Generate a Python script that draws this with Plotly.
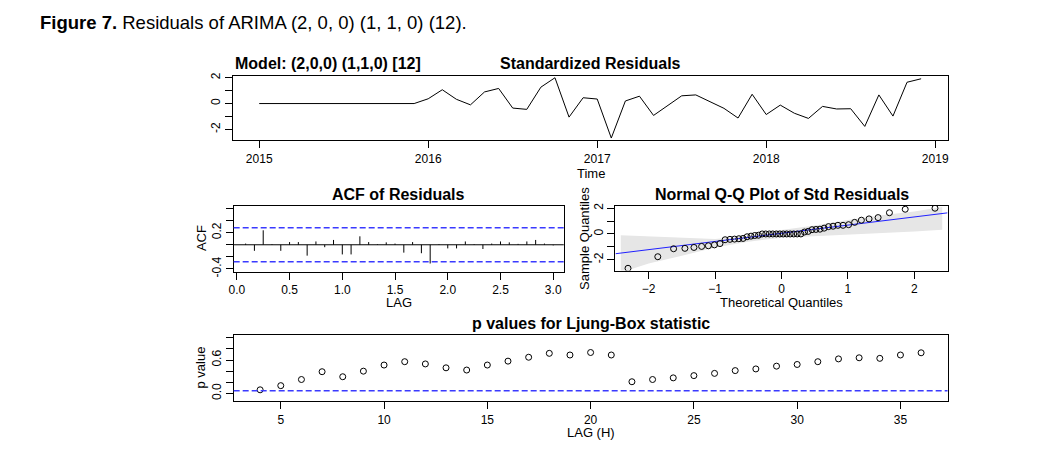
import plotly.graph_objects as go
import numpy as np
from statistics import NormalDist

W, H = 1043, 455

# ---------------- data ----------------
# standardized residuals, monthly 2015-01 .. 2018-12
resid_2015 = [0.0] * 12
resid_2016 = [0.37, 1.07, 0.33, -0.10, 0.90, 1.17, -0.35, -0.45, 1.27, 2.00, -1.05, 0.45]
resid_2017 = [0.35, -2.67, 0.20, 0.57, -0.92, -0.17, 0.60, 0.67, 0.15, -0.37, -1.12, 0.72]
resid_2018 = [-0.85, -0.12, -0.75, -1.15, -0.22, -0.42, -0.40, -1.77, 0.67, -0.97, 1.65, 1.92]
start_year = 2015

# ACF of residuals, lags 1..36 (in years: lag/12)
acf_values = [0.02, -0.10, 0.24, 0.01, -0.10, 0.045, 0.045, -0.18, 0.055, -0.04,
              0.08, -0.16, -0.16, 0.14, 0.045, 0.01, 0.04, 0.02, -0.13, 0.045,
              -0.14, -0.31, 0.01, -0.06, -0.06, 0.055, 0.01, -0.07, 0.02, 0.055,
              0.04, 0.015, 0.055, 0.08, 0.02, -0.01]
acf_bound = 0.283

# Ljung-Box p-values, lags 4..36
lb_lags = list(range(4, 37))
lb_pvalues = [0.065, 0.14, 0.25, 0.39, 0.30, 0.40, 0.51, 0.57, 0.53, 0.46,
              0.42, 0.51, 0.58, 0.65, 0.72, 0.69, 0.735, 0.69, 0.21, 0.25,
              0.28, 0.32, 0.36, 0.41, 0.44, 0.49, 0.52, 0.57, 0.62, 0.64,
              0.63, 0.69, 0.73]
lb_level = 0.05

# Q-Q confidence band
band_z = [-2.42, -2.0, -1.5, -1.0, -0.5, 0.0, 0.5, 1.0, 1.5, 2.0, 2.42]
band_hi = [-0.10, -0.20, -0.30, -0.40, -0.15, 0.30, 0.65, 1.08, 1.45, 1.75, 2.10]
band_lo = [-3.00, -2.30, -1.70, -1.05, -0.60, -0.30, -0.20, -0.05, 0.08, 0.20, 0.33]

# ---------------- derived ----------------
resid = resid_2015 + resid_2016 + resid_2017 + resid_2018
n = len(resid)
t = [start_year + i / 12 for i in range(n)]

acf_lags = [(k + 1) / 12 for k in range(len(acf_values))]
acf_x, acf_y = [], []
for lx, v in zip(acf_lags, acf_values):
    acf_x += [lx, lx, None]
    acf_y += [0, v, None]

srt = sorted(resid)
nd = NormalDist()
theo = [nd.inv_cdf((i + 0.5) / n) for i in range(n)]
q1, q3 = np.percentile(resid, [25, 75])
z1, z3 = nd.inv_cdf(0.25), nd.inv_cdf(0.75)
slope = (q3 - q1) / (z3 - z1)
icpt = q1 - slope * z1
qq_x_range = [-2.5, 2.5]

# ---------------- layout helpers ----------------
def dx(px):
    return px / W

def dy(py):
    return 1 - py / H

FONT = "Liberation Sans, Arial, Helvetica, sans-serif"
BLUE = "#3a3aff"

fig = go.Figure()

# top: standardized residuals
fig.add_trace(go.Scatter(x=t, y=resid, mode="lines", line=dict(color="black", width=1),
                         xaxis="x", yaxis="y", showlegend=False))

# ACF spikes
fig.add_trace(go.Scatter(x=acf_x, y=acf_y, mode="lines", line=dict(color="black", width=1),
                         xaxis="x2", yaxis="y2", showlegend=False))

# QQ band
fig.add_trace(go.Scatter(x=band_z + band_z[::-1], y=band_hi + band_lo[::-1], fill="toself",
                         fillcolor="#e6e6e6", line=dict(width=0), mode="lines",
                         xaxis="x3", yaxis="y3", showlegend=False, hoverinfo="skip"))
fig.add_trace(go.Scatter(x=qq_x_range, y=[icpt + slope * v for v in qq_x_range], mode="lines",
                         line=dict(color="#2020ff", width=1), xaxis="x3", yaxis="y3",
                         showlegend=False))
fig.add_trace(go.Scatter(x=theo, y=srt, mode="markers",
                         marker=dict(symbol="circle-open", size=6, color="black",
                                     line=dict(width=1, color="black")),
                         xaxis="x3", yaxis="y3", showlegend=False))

# Ljung-Box
fig.add_trace(go.Scatter(x=lb_lags, y=lb_pvalues, mode="markers",
                         marker=dict(symbol="circle-open", size=6, color="black",
                                     line=dict(width=1, color="black")),
                         xaxis="x4", yaxis="y4", showlegend=False))

axis_common = dict(showline=True, mirror=True, linecolor="black", linewidth=1,
                   ticks="outside", ticklen=7, tickcolor="black", tickwidth=1,
                   showgrid=False, zeroline=False,
                   tickfont=dict(family=FONT, size=12, color="black"))

def yax(**kw):
    d = dict(axis_common)
    d.update(tickangle=-90)
    d.update(kw)
    return d

def xax(**kw):
    d = dict(axis_common)
    d.update(kw)
    return d

fig.update_layout(
    width=W, height=H, margin=dict(l=0, r=0, t=0, b=0),
    paper_bgcolor="white", plot_bgcolor="white",
    xaxis=xax(domain=[dx(229), dx(948)], range=[2014.843, 2019.073],
              tickvals=[2015, 2016, 2017, 2018, 2019], anchor="y"),
    yaxis=yax(domain=[dy(140), dy(74)], range=[-2.84, 2.17],
              tickvals=[-2, -1, 0, 1, 2], ticktext=["-2", "", "0", "", "2"], anchor="x"),
    xaxis2=xax(domain=[dx(230), dx(562)], range=[-0.03, 3.1],
               tickvals=[0, 0.5, 1, 1.5, 2, 2.5, 3],
               ticktext=["0.0", "0.5", "1.0", "1.5", "2.0", "2.5", "3.0"], anchor="y2"),
    yaxis2=yax(domain=[dy(274), dy(207)], range=[-0.444, 0.644],
               tickvals=[-0.4, -0.2, 0, 0.2, 0.4, 0.6],
               ticktext=["-0.4", "", "", "0.2", "", ""], anchor="x2"),
    xaxis3=xax(domain=[dx(614), dx(948)], range=[-2.5, 2.5],
               tickvals=[-2, -1, 0, 1, 2], anchor="y3"),
    yaxis3=yax(domain=[dy(273), dy(207)], range=[-2.85, 2.18],
               tickvals=[-2, -1, 0, 1, 2], ticktext=["-2", "", "0", "", "2"], anchor="x3"),
    xaxis4=xax(domain=[dx(230), dx(948)], range=[2.72, 37.28],
               tickvals=[5, 10, 15, 20, 25, 30, 35], anchor="y4"),
    yaxis4=yax(domain=[dy(406.5), dy(339)], range=[-0.144, 1.044],
               tickvals=[0, 0.2, 0.4, 0.6, 0.8, 1.0],
               ticktext=["0.0", "", "", "0.6", "", ""], anchor="x4"),
)

shapes = [
    dict(type="line", xref="x2 domain", yref="y2", x0=0, x1=1, y0=0, y1=0,
         line=dict(color="black", width=1)),
    dict(type="line", xref="x2 domain", yref="y2", x0=0, x1=1, y0=acf_bound, y1=acf_bound,
         line=dict(color=BLUE, width=1.5, dash="6px,3px")),
    dict(type="line", xref="x2 domain", yref="y2", x0=0, x1=1, y0=-acf_bound, y1=-acf_bound,
         line=dict(color=BLUE, width=1.5, dash="6px,3px")),
    dict(type="line", xref="x4 domain", yref="y4", x0=0, x1=1, y0=lb_level, y1=lb_level,
         line=dict(color=BLUE, width=1.5, dash="6px,3px")),
]
fig.update_layout(shapes=shapes)

def ann(text, px, py, size=13, bold=False, angle=0, xanchor="center"):
    if bold:
        text = "<b>" + text + "</b>"
    return dict(text=text, x=dx(px), y=dy(py), xref="paper", yref="paper",
                xanchor=xanchor, yanchor="middle", showarrow=False, textangle=angle,
                font=dict(family=FONT, size=size, color="black"))

annotations = [
    dict(text="<b>Figure 7.</b> Residuals of ARIMA (2, 0, 0) (1, 1, 0) (12).",
         x=dx(33), y=dy(20), xref="paper", yref="paper", xanchor="left", yanchor="middle",
         showarrow=False, font=dict(family=FONT, size=18.5, color="black")),
    ann("Model: (2,0,0) (1,1,0) [12]", 229, 62, size=16, bold=True, xanchor="left"),
    ann("Standardized Residuals", 589, 62, size=16, bold=True),
    ann("ACF of Residuals", 396, 195, size=16, bold=True),
    ann("Normal Q-Q Plot of Std Residuals", 781, 195, size=16, bold=True),
    ann("p values for Ljung-Box statistic", 589, 327, size=16, bold=True),
    ann("Time", 589, 174, size=13),
    ann("LAG", 396, 306, size=13),
    ann("Theoretical Quantiles", 781, 306, size=13),
    ann("LAG (H)", 589, 438, size=13),
    ann("ACF", 197, 240, size=13, angle=-90),
    ann("Sample Quantiles", 583, 240, size=13, angle=-90),
    ann("p value", 197, 372, size=13, angle=-90),
]
fig.update_layout(annotations=annotations)

fig.write_html("out.html", config={"displayModeBar": False},
               post_script="document.body.style.margin='0';document.body.style.padding='0';")
